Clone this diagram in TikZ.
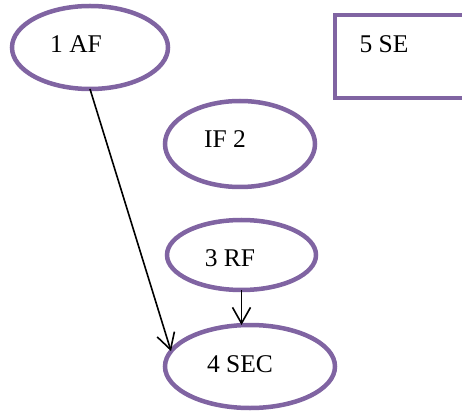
\documentclass[tikz,border=0pt]{standalone}
\usepackage{fontspec}
\setmainfont{Liberation Serif}
\usetikzlibrary{shapes.geometric,arrows.meta}
\definecolor{ellpurple}{HTML}{8064A2}
\tikzset{
  ell/.style={draw=ellpurple, line width=4.5pt, ellipse, inner sep=0pt, outer sep=0pt},
  sebox/.style={draw=ellpurple, line width=4.5pt, rectangle, inner sep=0pt, outer sep=0pt},
  lbl/.style={anchor=base, inner sep=0pt, font=\fontsize{25.5}{30}\selectfont},
  conn/.style={line width=1.6pt, -{Straight Barb[length=16pt,width=18pt,line width=1.6pt]}}
}
\begin{document}
\begin{tikzpicture}[x=1pt,y=-1pt]
\useasboundingbox (0,0) rectangle (462,411);
\clip (0,0) rectangle (462,411);
\node[ell, minimum width=156pt, minimum height=83pt] (af) at (90,47.5) {};
\node[ell, minimum width=150pt, minimum height=86pt] (ifb) at (240,144) {};
\node[ell, minimum width=149pt, minimum height=70pt] (rf) at (241.5,255) {};
\node[ell, minimum width=170pt, minimum height=83pt] (sec) at (250,366.5) {};
\node[sebox, minimum width=145pt, minimum height=83pt] (se) at (407.5,56.5) {};
\node[lbl] (aft) at (76,53) {1 AF};
\node[lbl] (set) at (384,53) {5 SE};
\node[lbl] (ift) at (225,148) {IF 2};
\node[lbl] (rft) at (230,266) {3 RF};
\node[lbl] (sect) at (240,372) {4 SEC};
\draw[conn] (af.south) -- (sec.169);
\draw[conn] (rf.south) -- (rf.south |- sec.north);
\end{tikzpicture}
\end{document}
